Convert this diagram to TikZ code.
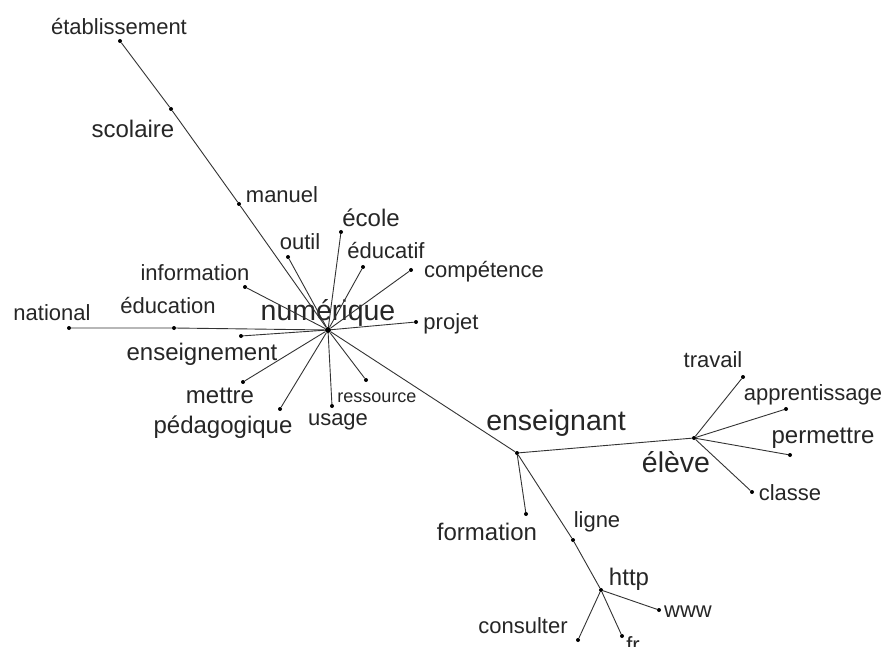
\documentclass[tikz,border=0pt]{standalone}
\usepackage{fontspec}
\setmainfont{Liberation Sans}
\usetikzlibrary{positioning}
\tikzset{
  pt/.style={circle,fill=black,inner sep=0pt,minimum size=4pt},
  hub/.style={circle,fill=black,inner sep=0pt,minimum size=6pt},
  word/.style={inner sep=0pt,anchor=base,text=black!85,font=\fontsize{22}{24}\selectfont},
  wordm/.style={word,font=\fontsize{24}{26}\selectfont},
  wordl/.style={word,font=\fontsize{28.5}{30}\selectfont},
  words/.style={word,font=\fontsize{18}{20}\selectfont},
  link/.style={draw=black!80,line width=.9pt}
}

\begin{document}
\begin{tikzpicture}[x=1pt,y=-1pt]
\useasboundingbox[fill=white] (0,0) rectangle (884,647);

% points
\node[hub] (num) at (328,330) {};
\node[pt] (etab) at (120,41) {};
\node[pt] (scol) at (171,109) {};
\node[pt] (man) at (239,204) {};
\node[pt] (out) at (288,257) {};
\node[pt] (eco) at (341,232) {};
\node[pt] (educf) at (363,267) {};
\node[pt] (comp) at (411,270) {};
\node[pt] (info) at (245,287) {};
\node[pt] (nat) at (69,328) {};
\node[pt] (educ) at (174,328) {};
\node[pt] (proj) at (416,322) {};
\node[pt] (ensm) at (241,336) {};
\node[pt] (met) at (243,382) {};
\node[pt] (peda) at (280,409) {};
\node[pt] (usa) at (332,406) {};
\node[pt] (res) at (366,380) {};
\node[pt] (ensg) at (517,453) {};
\node[pt] (elv) at (694,438) {};
\node[pt] (trav) at (743,377) {};
\node[pt] (appr) at (786,409) {};
\node[pt] (perm) at (790,455) {};
\node[pt] (cla) at (752,492) {};
\node[pt] (form) at (526,514) {};
\node[pt] (lig) at (573,540) {};
\node[pt] (http) at (601,590) {};
\node[pt] (www) at (659,610) {};
\node[pt] (cons) at (578,640) {};
\node[pt] (fr) at (622,636) {};

% words
\node[word] (t-etab) at (119,35) {établissement};
\node[wordm] (t-scol) at (133,138) {scolaire};
\node[word] (t-man) at (282,203) {manuel};
\node[wordm] (t-eco) at (371,227) {école};
\node[word] (t-out) at (300,250) {outil};
\node[word] (t-educf) at (386,259) {éducatif};
\node[word] (t-info) at (195,280) {information};
\node[word] (t-comp) at (484,278) {compétence};
\node[word] (t-educ) at (168,313) {éducation};
\node[word] (t-nat) at (52,320) {national};
\node[wordl] (t-num) at (328,320) {numérique};
\node[word] (t-proj) at (451,330) {projet};
\node[wordm] (t-ensm) at (202,360) {enseignement};
\node[wordm] (t-met) at (220,403) {mettre};
\node[words] (t-res) at (377,402) {ressource};
\node[wordm] (t-peda) at (223,433) {pédagogique};
\node[word] (t-usa) at (338,425) {usage};
\node[wordl] (t-ensg) at (556,430) {enseignant};
\node[wordl] (t-elv) at (676,472) {élève};
\node[word] (t-trav) at (713,367) {travail};
\node[word] (t-appr) at (813,400) {apprentissage};
\node[wordm] (t-perm) at (823,443) {permettre};
\node[word] (t-cla) at (790,500) {classe};
\node[wordm] (t-form) at (487,540) {formation};
\node[word] (t-lig) at (597,527) {ligne};
\node[wordm] (t-http) at (629,585) {http};
\node[word] (t-www) at (688,617) {www};
\node[word] (t-cons) at (523,633) {consulter};
\node[word] (t-fr) at (633,652) {fr};

% links
\draw[link] (etab) -- (scol) -- (man) -- (num);
\draw[link] (nat) -- (educ) -- (num);
\foreach \w in {out,eco,educf,comp,info,proj,ensm,met,peda,usa,res}
  \draw[link] (num) -- (\w);
\draw[link] (num) -- (ensg) -- (elv);
\draw[link] (ensg) -- (form);
\draw[link] (ensg) -- (lig) -- (http);
\foreach \w in {trav,appr,perm,cla}
  \draw[link] (elv) -- (\w);
\foreach \w in {www,cons,fr}
  \draw[link] (http) -- (\w);
\end{tikzpicture}
\end{document}
